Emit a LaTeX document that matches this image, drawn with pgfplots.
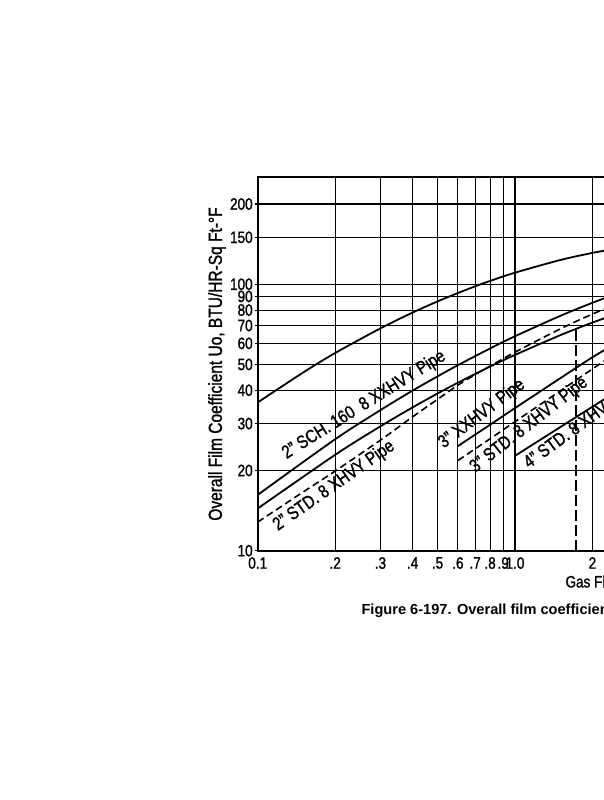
\documentclass[border=0pt]{standalone}
\usepackage{fontspec}
\setmainfont{Liberation Sans}[FakeStretch=0.82, FakeBold=1.3]
\newfontfamily\capfont{Liberation Sans}
\usepackage{pgfplots}
\pgfplotsset{compat=1.18}
\newcommand{\tck}{\fontsize{16.5}{19}\selectfont}
\newcommand{\lab}{\fontsize{18.3}{21}\selectfont}
\begin{document}
\begin{tikzpicture}
\path[use as bounding box] (0pt,0pt) rectangle (604pt,800pt);
\clip (0pt,0pt) rectangle (604pt,800pt);
\begin{axis}[
  at={(257.7pt,249.3pt)}, anchor=south west,
  scale only axis, width=514.6pt, height=373.4pt,
  xmode=log, ymode=log,
  xmin=0.1, xmax=10, ymin=10, ymax=252,
  xtick={0.1,0.2,0.3,0.4,0.5,0.6,0.7,0.8,0.9,1,2,3,4,5,6,7,8,9,10},
  xticklabels={0.1,.2,.3,.4,.5,.6,.7,.8,.9,1.0,2,3,4,5,6,7,8,9,10},
  ytick={10,20,30,40,50,60,70,80,90,100,150,200},
  yticklabels={10,20,30,40,50,60,70,80,90,100,150,200},
  grid=major,
  major grid style={line width=1.1pt, black},
  axis line style={line width=1.8pt, black},
  xtick style={draw=none},
  ytick style={line width=1.1pt, black},
  tick align=outside, major tick length=3pt,
  tick label style={font=\tck},
  yticklabel style={xshift=1.5pt},
  xlabel={Gas Flow Rate, MMSCFD},
  xlabel style={at={(axis description cs:0.5913,-0.0852)}, anchor=west, font=\tck},
  ylabel={Overall Film Coefficient Uo, BTU/HR-Sq Ft-°F},
  ylabel style={at={(axis description cs:-0.0791,0.5)}, anchor=center, font=\fontsize{18.9}{21}\selectfont},
]
% top curve
\addplot[black, line width=1.8pt, smooth] coordinates {
  (0.1,36) (0.15,46.6) (0.2,55.2) (0.3,68.3) (0.4,78.3) (0.5,86.2) (0.6,92.7)
  (0.7,98.2) (0.8,102.9) (1.0,110.5) (1.5,123.3) (2.0,131.1) (2.5,136.3)};
% 2" SCH. 160 8 XXHVY
\addplot[black, line width=1.8pt, smooth] coordinates {
  (0.1,16.2) (0.2,26.2) (0.3,33.7) (0.4,39.9) (0.5,45.1) (0.6,49.7) (0.8,57.4)
  (1.0,63.8) (1.5,76.1) (2.0,85.2) (2.5,92.4)};
% 2" lower solid
\addplot[black, line width=1.8pt, smooth] coordinates {
  (0.1,14.4) (0.2,22.9) (0.3,29.3) (0.4,34.5) (0.5,38.9) (0.6,42.7) (0.8,49.1)
  (1.0,54.3) (1.5,64.4) (2.0,71.8) (2.5,77.6)};
% 2" STD. 8 XHVY (dashed)
\addplot[black, line width=1.6pt, smooth, dash pattern=on 7pt off 4pt] coordinates {
  (0.1,12.8) (0.15,16.6) (0.2,19.9) (0.3,26) (0.4,31.8) (0.5,37) (0.6,41.8)
  (0.7,45.8) (0.8,49.3) (1.0,55.6) (1.5,68) (2.0,77.3) (2.5,84.5)};
% 3" XXHVY
\addplot[black, line width=1.8pt, smooth] coordinates {
  (0.6,24.7) (0.8,29.7) (1.0,34.3) (1.5,44.4) (2.0,53.2) (2.5,60.5)};
% 3" STD. 8 XHVY (dashed)
\addplot[black, line width=1.6pt, smooth, dash pattern=on 7pt off 4pt] coordinates {
  (0.6,21.8) (0.8,26.3) (1.0,30.5) (1.5,39.8) (2.0,48.1) (2.5,55.6)};
% 4" STD. 8 XHVY
\addplot[black, line width=1.8pt, smooth] coordinates {
  (1.0,22.7) (1.5,29.1) (2.0,34.7) (2.5,39.8)};
% example reading
\addplot[black, line width=1.6pt, dash pattern=on 11pt off 4pt] coordinates {
  (1.73,10) (1.73,68)};

\node[rotate=32, font=\lab] at (axis cs:0.259,35.2) {2" SCH. 160\ \ 8 XXHVY Pipe};
\node[rotate=35, font=\lab] at (axis cs:0.198,17.5) {2" STD. 8 XHVY Pipe};
\node[rotate=37, font=\lab] at (axis cs:0.744,32.6) {3" XXHVY Pipe};
\node[rotate=38, font=\lab] at (axis cs:1.134,29.6) {3" STD. 8 XHVY Pipe};
\node[rotate=36, font=\lab] at (axis cs:1.86,30.2) {4" STD. 8 XHVY Pipe};
\end{axis}
\node[anchor=west, font=\capfont\fontsize{14.6}{17}\selectfont\bfseries] at (358pt,189pt)
  {Figure 6-197. Overall film coefficient for gas flowing in pipe};
\end{tikzpicture}
\end{document}
